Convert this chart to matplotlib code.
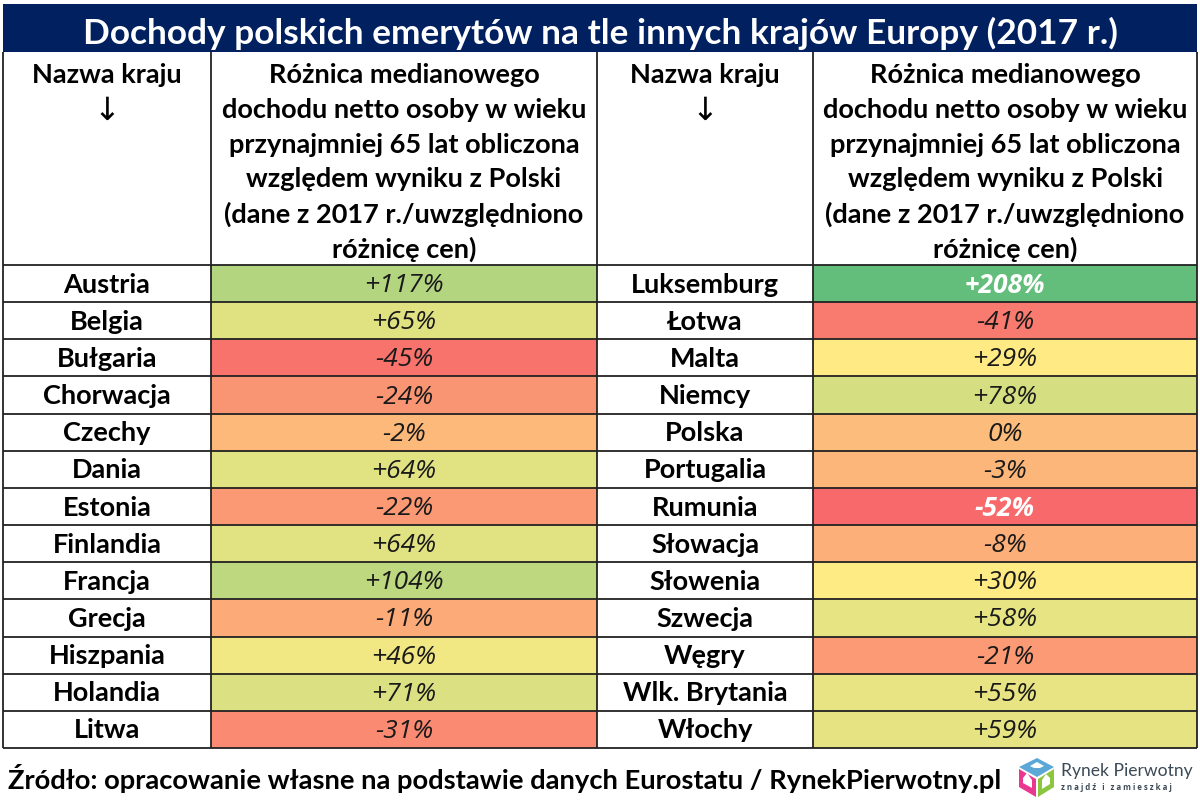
#!/usr/bin/env python3
"""Dochody polskich emerytow - tabela z kolorowaniem warunkowym."""
import matplotlib
matplotlib.use("Agg")
import matplotlib.pyplot as plt
import matplotlib.patches as mpatches
from matplotlib.colors import LinearSegmentedColormap, TwoSlopeNorm

TITLE = "Dochody polskich emerytów na tle innych krajów Europy (2017 r.)"
SOURCE = "Źródło: opracowanie własne na podstawie danych Eurostatu / RynekPierwotny.pl"
NAME_HEADER = "Nazwa kraju"
ARROW = "↓"
VALUE_HEADER = ["Różnica medianowego", "dochodu netto osoby w wieku",
                "przynajmniej 65 lat obliczona", "względem wyniku z Polski",
                "(dane z 2017 r./uwzględniono", "różnicę cen)"]

left_countries = ["Austria", "Belgia", "Bułgaria", "Chorwacja", "Czechy", "Dania", "Estonia",
                  "Finlandia", "Francja", "Grecja", "Hiszpania", "Holandia", "Litwa"]
left_values = [117, 65, -45, -24, -2, 64, -22, 64, 104, -11, 46, 71, -31]
right_countries = ["Luksemburg", "Łotwa", "Malta", "Niemcy", "Polska", "Portugalia", "Rumunia",
                   "Słowacja", "Słowenia", "Szwecja", "Węgry", "Wlk. Brytania", "Włochy"]
right_values = [208, -41, 29, 78, 0, -3, -52, -8, 30, 58, -21, 55, 59]

FONT = ["Lato", "DejaVu Sans"]
VALUE_FONT = ["Open Sans", "DejaVu Sans"]
NAVY = "#002060"
LINE = "#222222"
HEAD_SIZE = 19.5

# column edges and row edges, in pixels of the 1200x805 picture
COLUMN_X = [(3, 211, 597), (597, 813, 1197)]
TOP, TITLE_BOTTOM, HEADER_BOTTOM, BOTTOM = 4, 52, 265, 748
ROW_H = (BOTTOM - HEADER_BOTTOM) / len(left_countries)
HEADER_FIRST_Y, HEADER_STEP = 73, 34.8

# three colour scale: lowest value, median, highest value
all_values = sorted(left_values + right_values)
mid = (all_values[12] + all_values[13]) / 2
norm = TwoSlopeNorm(vmin=all_values[0], vcenter=mid, vmax=all_values[-1])
cmap = LinearSegmentedColormap.from_list("excel", ["#F8696B", "#FFEB84", "#63BE7B"])


def fmt_value(v):
    return f"+{v}%" if v > 0 else f"{v}%"


def draw_block(ax, edges, countries, values):
    x0, x1, x2 = edges
    ax.text((x0 + x1) / 2, HEADER_FIRST_Y, NAME_HEADER, ha="center", va="center_baseline",
            fontsize=HEAD_SIZE, fontweight="bold", family=FONT, color="black")
    ax.text((x0 + x1) / 2, HEADER_FIRST_Y + HEADER_STEP, ARROW, ha="center", va="center_baseline",
            fontsize=23, family="DejaVu Sans", color="black")
    for j, line in enumerate(VALUE_HEADER):
        ax.text((x1 + x2) / 2, HEADER_FIRST_Y + j * HEADER_STEP, line, ha="center",
                va="center_baseline", fontsize=HEAD_SIZE, fontweight="bold", family=FONT,
                color="black")
    for i, (name, val) in enumerate(zip(countries, values)):
        y = HEADER_BOTTOM + i * ROW_H
        ax.add_patch(mpatches.Rectangle((x1, y), x2 - x1, ROW_H, facecolor=cmap(norm(val)),
                                        edgecolor="none"))
        ax.text((x0 + x1) / 2, y + ROW_H / 2 - 1, name, ha="center", va="center_baseline",
                fontsize=HEAD_SIZE, fontweight="bold", family=FONT, color="black")
        # the two extreme values are white and bold
        extreme = val in (all_values[0], all_values[-1])
        ax.text((x1 + x2) / 2, y + ROW_H / 2 - 1, fmt_value(val), ha="center", va="center_baseline",
                fontsize=19, style="italic", family=VALUE_FONT,
                fontweight="bold" if extreme else "normal",
                color="white" if extreme else "#1a1a1a")


def draw_logo(ax):
    # little cube with houses, bottom right corner
    ax.add_patch(mpatches.Polygon([(1037, 758), (1054, 767), (1037, 777), (1019, 767)],
                                  facecolor="#5BA7D6", edgecolor="none"))
    ax.add_patch(mpatches.Polygon([(1019, 769), (1036, 779), (1036, 797), (1019, 787)],
                                  facecolor="#E8388F", edgecolor="none"))
    ax.add_patch(mpatches.Polygon([(1038, 779), (1054, 769), (1054, 787), (1038, 797)],
                                  facecolor="#8CC63F", edgecolor="none"))
    for poly in ([(1030, 766), (1037, 762), (1044, 766), (1040, 768), (1034, 768)],
                 [(1023, 778), (1027, 773), (1032, 780), (1032, 788), (1023, 783)],
                 [(1042, 780), (1046, 774), (1050, 778), (1050, 784), (1042, 789)]):
        ax.add_patch(mpatches.Polygon(poly, facecolor="white", edgecolor="none"))
    ax.text(1061, 771, "Rynek Pierwotny", ha="left", va="center", fontsize=12.6,
            family=["Lato", "DejaVu Sans"], color="#3C4A57")
    ax.text(1061, 787, "z n a j d ź   i   z a m i e s z k a j", ha="left", va="center", fontsize=5.7,
            family=VALUE_FONT, fontweight="bold", color="#3C4A57")


def main():
    fig = plt.figure(figsize=(12, 8.05), dpi=100)
    ax = fig.add_axes([0, 0, 1, 1])
    ax.set_xlim(0, 1200)
    ax.set_ylim(805, 0)
    ax.axis("off")

    draw_block(ax, COLUMN_X[0], left_countries, left_values)
    draw_block(ax, COLUMN_X[1], right_countries, right_values)

    # title band
    ax.add_patch(mpatches.Rectangle((3, TOP), 1194, TITLE_BOTTOM - TOP, facecolor=NAVY,
                                    edgecolor="none"))
    ax.text(600, (TOP + TITLE_BOTTOM) / 2 + 2, TITLE, ha="center", va="center_baseline", fontsize=25.4,
            fontweight="bold", family=FONT, color="white")

    # grid
    for i in range(len(left_countries) + 1):
        y = HEADER_BOTTOM + i * ROW_H
        ax.plot([3, 1197], [y, y], color=LINE, lw=1.3, solid_capstyle="butt")
    for x in (3, 211, 597, 813, 1197):
        ax.plot([x, x], [TITLE_BOTTOM, BOTTOM], color=LINE, lw=1.3, solid_capstyle="butt")

    ax.text(8, 776, SOURCE, ha="left", va="center_baseline", fontsize=19.7, fontweight="bold",
            family=FONT, color="black")
    draw_logo(ax)

    fig.savefig("out.png", dpi=100, facecolor="white")
    plt.close(fig)


if __name__ == "__main__":
    main()
